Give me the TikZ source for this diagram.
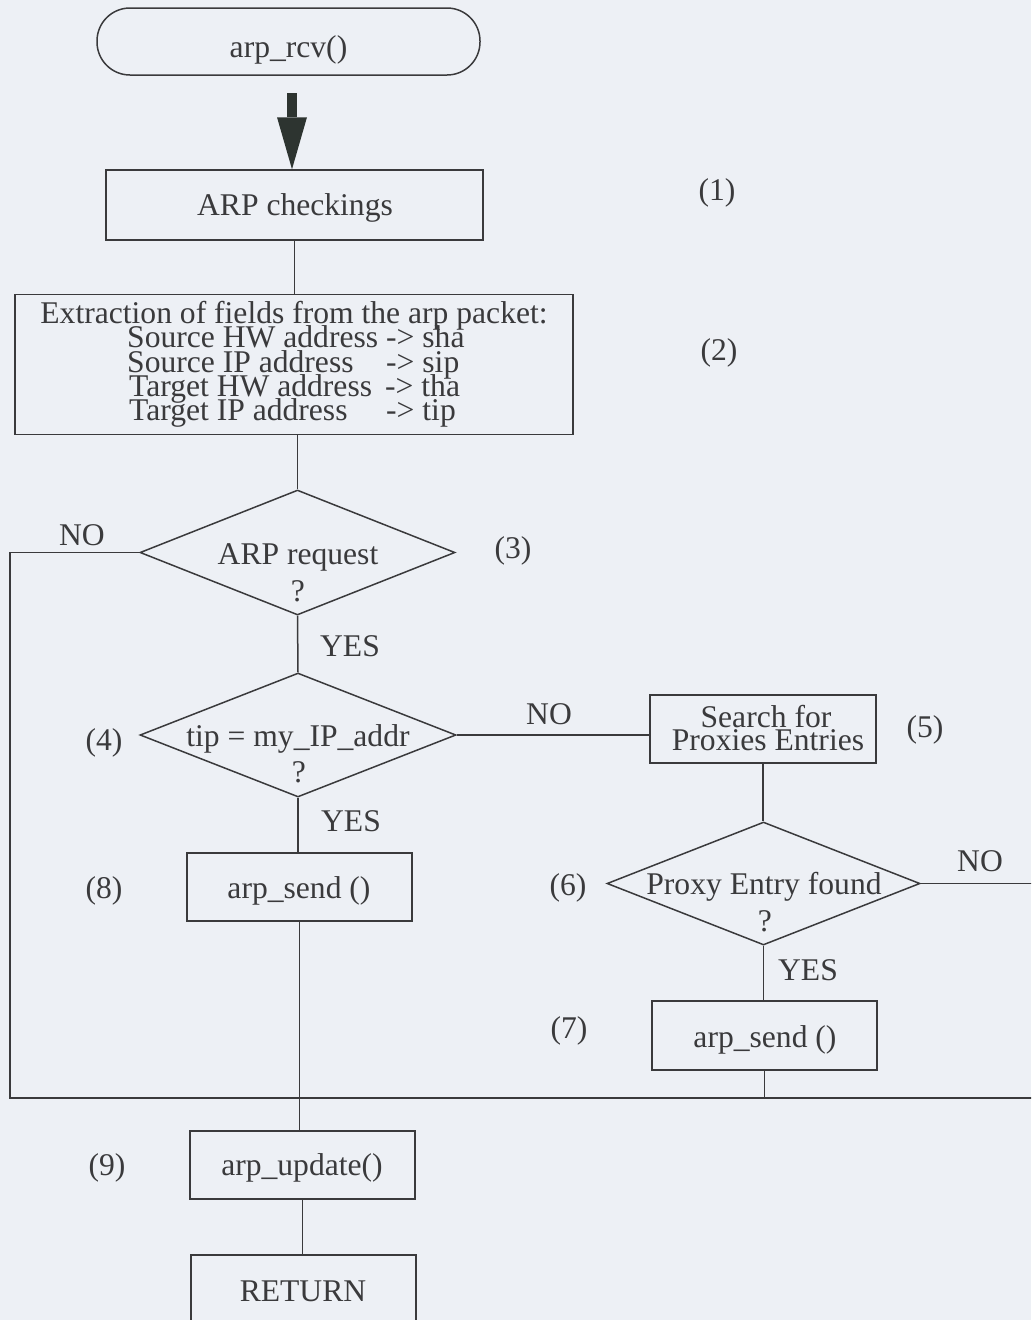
\documentclass[tikz,border=0pt]{standalone}
\usepackage{fontspec}
\setmainfont{Liberation Serif}
\usetikzlibrary{shapes.geometric,arrows.meta}
\definecolor{bg}{RGB}{237,240,245}
\definecolor{ink}{RGB}{58,58,60}
\definecolor{arrc}{RGB}{45,52,48}
\begin{document}
\begin{tikzpicture}[x=1pt,y=-1pt,
  every node/.style={font=\fontsize{31.6}{26}\selectfont, text=ink},
  box/.style={draw=ink, line width=1.5pt, rectangle, inner sep=0pt},
  dia/.style={draw=ink, line width=1.5pt, diamond, inner sep=0pt},
  lbl/.style={anchor=base, inner sep=0pt},
  lblw/.style={anchor=base west, inner sep=0pt},
  wire/.style={draw=ink, line width=1.5pt}]
\fill[bg] (0,0) rectangle (1031,1320);
\useasboundingbox (0,0) rectangle (1031,1320);
\clip (0,0) rectangle (1031,1320);

% shapes
\node[box, rounded corners=33pt, minimum width=383pt, minimum height=67pt] (start) at (288.5,41.5) {};
\node[box, minimum width=377pt, minimum height=70pt] (ck) at (294.5,205) {};
\node[box, minimum width=558pt, minimum height=140pt] (ext) at (294,364.5) {};
\node[dia, minimum width=315pt, minimum height=125pt] (d1) at (297.5,552.5) {};
\node[dia, minimum width=316pt, minimum height=124pt] (d2) at (298,735) {};
\node[box, minimum width=226pt, minimum height=68pt] (srch) at (763,729) {};
\node[box, minimum width=225pt, minimum height=68pt] (s8) at (299.5,887) {};
\node[dia, minimum width=313pt, minimum height=123pt] (d3) at (763.5,883.5) {};
\node[box, minimum width=225pt, minimum height=69pt] (s7) at (764.5,1035.5) {};
\node[box, minimum width=225pt, minimum height=68pt] (upd) at (302.5,1165) {};
\node[box, minimum width=225pt, minimum height=76pt] (ret) at (303.5,1293) {};

% texts
\node[lbl] (t0) at (288.5,57) {arp\_rcv()};
\node[lbl] (t1) at (295,215) {ARP checkings};
\node[lbl] (t2a) at (294,323) {Extraction of fields from the arp packet:};
\node[lblw] (t2b) at (127,347) {Source HW address};
\node[lblw] (t2c) at (127,372) {Source IP address};
\node[lblw] (t2d) at (129,396) {Target HW address};
\node[lblw] (t2e) at (129,420) {Target IP address};
\node[lblw] (t2f) at (386,347) {-> sha};
\node[lblw] (t2g) at (386,372) {-> sip};
\node[lblw] (t2h) at (385,396) {-> tha};
\node[lblw] (t2i) at (386,420) {-> tip};
\node[lbl] (t3a) at (298,564) {ARP request};
\node[lbl] (t3b) at (298,601) {?};
\node[lbl] (t4a) at (298,746) {tip = my\_IP\_addr};
\node[lbl] (t4b) at (299,782) {?};
\node[lbl] (t5a) at (766,727) {Search for};
\node[lbl] (t5b) at (768,750) {Proxies Entries};
\node[lbl] (t6a) at (764,894) {Proxy Entry found};
\node[lbl] (t6b) at (765,931) {?};
\node[lbl] (t8) at (299,898) {arp\_send ()};
\node[lbl] (t7) at (765,1047) {arp\_send ()};
\node[lbl] (t9) at (302,1175) {arp\_update()};
\node[lbl] (t10) at (303,1301) {RETURN};

% step numbers
\node[lbl] (n1) at (717,200) {(1)};
\node[lbl] (n2) at (719,360) {(2)};
\node[lbl] (n3) at (513,558) {(3)};
\node[lbl] (n4) at (104,750) {(4)};
\node[lbl] (n5) at (925,737) {(5)};
\node[lbl] (n6) at (568,895) {(6)};
\node[lbl] (n7) at (569,1038) {(7)};
\node[lbl] (n8) at (104,898) {(8)};
\node[lbl] (n9) at (107,1175) {(9)};

% branch labels
\node[lbl] (no1) at (82,545) {NO};
\node[lbl] (yes1) at (350,656) {YES};
\node[lbl] (no2) at (549,724) {NO};
\node[lbl] (yes2) at (351,831) {YES};
\node[lbl] (no3) at (980,871) {NO};
\node[lbl] (yes3) at (808,980) {YES};

% connectors
\coordinate (arrS) at (292,93);
\coordinate (jl) at (10,1098);
\coordinate (jr) at (1045,1098);
\draw[arrc, line width=10pt, -{Triangle[length=52pt,width=30pt,line width=0pt]}] (arrS) -- (arrS |- ck.north);
\draw[wire] (ck.south) -- (ck.south |- ext.north);
\draw[wire] (ext.south -| d1.north) -- (d1.north);
\draw[wire] (d1.south) -- (d2.north);
\draw[wire] (d2.south) -- (d2.south |- s8.north);
\draw[wire] (d2.east) -- (d2.east -| srch.west);
\draw[wire] (srch.south) -- (srch.south |- d3.north);
\draw[wire] (d3.south) -- (d3.south |- s7.north);
\draw[wire] (d1.west) -| (jl) -- (jr);
\draw[wire] (d3.east) -| (jr);
\draw[wire] (s7.south) -- (s7.south |- jl);
\draw[wire] (s8.south) -- (s8.south |- upd.north);
\draw[wire] (upd.south) -- (upd.south |- ret.north);
\end{tikzpicture}
\end{document}
